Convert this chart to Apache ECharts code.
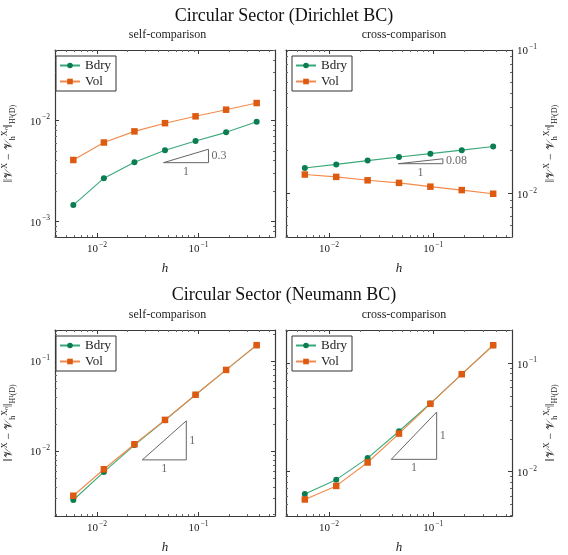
<!DOCTYPE html>
<html><head><meta charset="utf-8">
<script src="https://cdn.jsdelivr.net/npm/echarts@6/dist/echarts.min.js"></script>
<style>html,body{margin:0;padding:0;background:#fff}#c{width:568px;height:555px}</style>
</head><body><div id="c"></div>
<script>
// ---- data ----
const h = [0.005859375, 0.01171875, 0.0234375, 0.046875, 0.09375, 0.1875, 0.375];
const dirSelfBdry  = [0.00145, 0.00268, 0.00385, 0.00508, 0.00627, 0.00763, 0.0097];
const dirSelfVol   = [0.00406, 0.00605, 0.0078, 0.00941, 0.0110, 0.0128, 0.0149];
const dirCrossBdry = [0.0151, 0.0160, 0.0170, 0.0180, 0.0190, 0.0201, 0.0213];
const dirCrossVol  = [0.0136, 0.0131, 0.0124, 0.0119, 0.0112, 0.0106, 0.0100];
const neuSelfBdry  = [0.00286, 0.00587, 0.01165, 0.0220, 0.0422, 0.0796, 0.150];
const neuSelfVol   = [0.00319, 0.00628, 0.0119, 0.0222, 0.0422, 0.0796, 0.150];
const neuCrossBdry = [0.00625, 0.00845, 0.01334, 0.0236, 0.0425, 0.0791, 0.146];
const neuCrossVol  = [0.00555, 0.0074, 0.01216, 0.02244, 0.0422, 0.0791, 0.146];
const seriesNames = ['Bdry', 'Vol'];
const mainTitles = ['Circular Sector (Dirichlet BC)', 'Circular Sector (Neumann BC)'];
const subTitles = ['self-comparison', 'cross-comparison'];
// slope triangles: [h start, h end, base value, slope, slope label]
const triDirSelf  = [0.0453, 0.1257, 0.00382, 0.3, '0.3'];
const triDirCross = [0.0462, 0.1236, 0.01618, 0.08, '0.08'];
const triNeuSelf  = [0.0280, 0.0760, 0.00798, 1, '1'];
const triNeuCross = [0.0395, 0.1077, 0.0130, 1, '1'];
// axis ranges
const xRange = [0.003866, 0.5684];
const yRanges = [[7e-4, 5e-2], [5e-3, 0.1], [0.0019, 0.221], [0.00391, 0.2018]];
const majorTicks = [1e-3, 1e-2, 1e-1];
const minorTicks = [4e-4,5e-4,6e-4,7e-4,8e-4,9e-4,2e-3,3e-3,4e-3,5e-3,6e-3,7e-3,8e-3,9e-3,2e-2,3e-2,4e-2,5e-2,6e-2,7e-2,8e-2,9e-2,2e-1,3e-1,4e-1,5e-1,6e-1];

// ---- layout / style ----
const FONT = 'Liberation Serif';
const GREEN_L = '#3aa97a', GREEN_M = '#0b7d51';
const ORANGE_L = '#f38a4c', ORANGE_M = '#dd5a10';
const AX = '#3a3a3a';
const panels = [
  {grid: {left: 50, top: 50, width: 225, height: 187}, side: 'left', b: dirSelfBdry, v: dirSelfVol, tri: triDirSelf},
  {grid: {left: 286, top: 50, width: 226, height: 187}, side: 'right', b: dirCrossBdry, v: dirCrossVol, tri: triDirCross},
  {grid: {left: 50, top: 330, width: 225, height: 187}, side: 'left', b: neuSelfBdry, v: neuSelfVol, tri: triNeuSelf},
  {grid: {left: 286, top: 330, width: 226, height: 187}, side: 'right', b: neuCrossBdry, v: neuCrossVol, tri: triNeuCross}
];

function expLabel(v) {
  const e = v > 0 ? Math.round(Math.log10(v)) : Math.round(v);
  return '{b|10}{e|' + (e < 0 ? '\u2212' : '') + Math.abs(e) + '}';
}
const labelRich = {
  b: {fontFamily: FONT, fontSize: 11, color: '#222', lineHeight: 14, verticalAlign: 'bottom'},
  e: {fontFamily: FONT, fontSize: 7.5, color: '#222', lineHeight: 14, verticalAlign: 'top', padding: [0, 0, 5, 1]}
};
const yNameRich = {
  n: {fontFamily: FONT, fontSize: 12, color: '#222', verticalAlign: 'middle', lineHeight: 16},
  sup: {fontFamily: FONT, fontSize: 8, color: '#222', verticalAlign: 'top', padding: [0, 0, 6, 0]},
  sub: {fontFamily: FONT, fontSize: 8, color: '#222', verticalAlign: 'bottom', padding: [5, 0, 0, 0]}
};
const yName = '{n|\u2016\uD835\uDCB1}{sup|X}{n| \u2212 \uD835\uDCB1}{sub|h}{sup|X\u2099}{n|\u2016}{sub|H\u00B9(D)}';

const grids = [], xAxes = [], yAxes = [], series = [], legends = [], titles = [];

titles.push({text: mainTitles[0], left: 'center', top: 2, textStyle: {fontFamily: FONT, fontSize: 18, fontWeight: 'normal', color: '#111'}});
titles.push({text: mainTitles[1], left: 'center', top: 281, textStyle: {fontFamily: FONT, fontSize: 18, fontWeight: 'normal', color: '#111'}});

panels.forEach((p, i) => {
  grids.push(p.grid);
  const cx = p.grid.left + p.grid.width / 2;
  titles.push({text: subTitles[i % 2], left: cx, textAlign: 'center', top: p.grid.top - 26,
    textStyle: {fontFamily: FONT, fontSize: 12, fontWeight: 'normal', color: '#222'}});
  const yr = yRanges[i];
  const base = {type: 'log', logBase: 10, gridIndex: i, splitLine: {show: false}, minorTick: {show: false}, minorSplitLine: {show: false}};
  const xi = xAxes.length;
  // x axes
  xAxes.push(Object.assign({}, base, {min: xRange[0], max: xRange[1], position: 'bottom',
    axisLine: {show: true, lineStyle: {color: AX, width: 1.2}},
    axisTick: {show: true, inside: true, length: 4, customValues: majorTicks, lineStyle: {color: AX}},
    axisLabel: {show: true, customValues: majorTicks, formatter: expLabel, rich: labelRich, margin: 4},
    name: 'h', nameLocation: 'middle', nameGap: 25,
    nameTextStyle: {fontFamily: FONT, fontStyle: 'italic', fontSize: 13, color: '#222'}}));
  xAxes.push(Object.assign({}, base, {min: xRange[0], max: xRange[1], position: 'bottom',
    axisLine: {show: false}, axisLabel: {show: false},
    axisTick: {show: true, inside: true, length: 2, customValues: minorTicks, lineStyle: {color: '#666'}}}));
  xAxes.push(Object.assign({}, base, {min: xRange[0], max: xRange[1], position: 'top',
    axisLine: {show: true, lineStyle: {color: AX, width: 1.2}}, axisLabel: {show: false},
    axisTick: {show: true, inside: true, length: 4, customValues: majorTicks, lineStyle: {color: AX}}}));
  xAxes.push(Object.assign({}, base, {min: xRange[0], max: xRange[1], position: 'top',
    axisLine: {show: false}, axisLabel: {show: false},
    axisTick: {show: true, inside: true, length: 2, customValues: minorTicks, lineStyle: {color: '#666'}}}));
  // y axes
  const yi = yAxes.length;
  const other = p.side === 'left' ? 'right' : 'left';
  yAxes.push(Object.assign({}, base, {min: yr[0], max: yr[1], position: p.side,
    axisLine: {show: true, lineStyle: {color: AX, width: 1.2}},
    axisTick: {show: true, inside: true, length: 4, customValues: majorTicks, lineStyle: {color: AX}},
    axisLabel: {show: true, customValues: majorTicks, formatter: expLabel, rich: labelRich, margin: 5},
    name: yName, nameLocation: 'middle', nameGap: p.side === 'left' ? 38 : 31, nameRotate: 90,
    nameTextStyle: {rich: yNameRich}}));
  yAxes.push(Object.assign({}, base, {min: yr[0], max: yr[1], position: p.side,
    axisLine: {show: false}, axisLabel: {show: false},
    axisTick: {show: true, inside: true, length: 2, customValues: minorTicks, lineStyle: {color: '#666'}}}));
  yAxes.push(Object.assign({}, base, {min: yr[0], max: yr[1], position: other,
    axisLine: {show: true, lineStyle: {color: AX, width: 1.2}}, axisLabel: {show: false},
    axisTick: {show: true, inside: true, length: 4, customValues: majorTicks, lineStyle: {color: AX}}}));
  yAxes.push(Object.assign({}, base, {min: yr[0], max: yr[1], position: other,
    axisLine: {show: false}, axisLabel: {show: false},
    axisTick: {show: true, inside: true, length: 2, customValues: minorTicks, lineStyle: {color: '#666'}}}));

  // triangle
  const t = p.tri;
  const topV = t[2] * Math.pow(t[1] / t[0], t[3]);
  series.push({type: 'line', xAxisIndex: xi, yAxisIndex: yi, symbol: 'none', silent: true, z: 1,
    lineStyle: {color: '#666', width: 1}, data: [[t[0], t[2]], [t[1], t[2]], [t[1], topV], [t[0], t[2]]]});
  series.push({type: 'scatter', xAxisIndex: xi, yAxisIndex: yi, symbolSize: 0, silent: true,
    data: [
      {value: [Math.sqrt(t[0] * t[1]), t[2]], label: {show: true, position: 'bottom', distance: 3, formatter: '1'}},
      {value: [t[1], Math.sqrt(t[2] * topV)], label: {show: true, position: 'right', distance: 3, formatter: t[4]}}
    ],
    label: {fontFamily: FONT, fontSize: 12, color: '#444'}});

  // data
  series.push({name: seriesNames[0], type: 'line', xAxisIndex: xi, yAxisIndex: yi, z: 3,
    symbol: 'circle', symbolSize: 6, lineStyle: {color: GREEN_L, width: 1.1},
    itemStyle: {color: GREEN_M, borderWidth: 0}, color: GREEN_M,
    data: h.map((x, k) => [x, p.b[k]])});
  series.push({name: seriesNames[1], type: 'line', xAxisIndex: xi, yAxisIndex: yi, z: 4,
    symbol: 'rect', symbolSize: 6.5, lineStyle: {color: ORANGE_L, width: 1.1},
    itemStyle: {color: ORANGE_M, borderWidth: 0}, color: ORANGE_M,
    data: h.map((x, k) => [x, p.v[k]])});

  legends.push({data: seriesNames, orient: 'vertical', left: p.grid.left + 6, top: p.grid.top + 6,
    itemWidth: 20, itemHeight: 7, itemGap: 3, padding: [3, 5, 3, 3],
    borderColor: '#333', borderWidth: 1, backgroundColor: '#fff', selectedMode: false,
    textStyle: {fontFamily: FONT, fontSize: 13, color: '#222'}});
});

const chart = echarts.init(document.getElementById('c'), null, {renderer: 'canvas'});
chart.setOption({
  animation: false,
  backgroundColor: '#fff',
  title: titles, grid: grids, xAxis: xAxes, yAxis: yAxes, series: series, legend: legends
});
</script></body></html>
